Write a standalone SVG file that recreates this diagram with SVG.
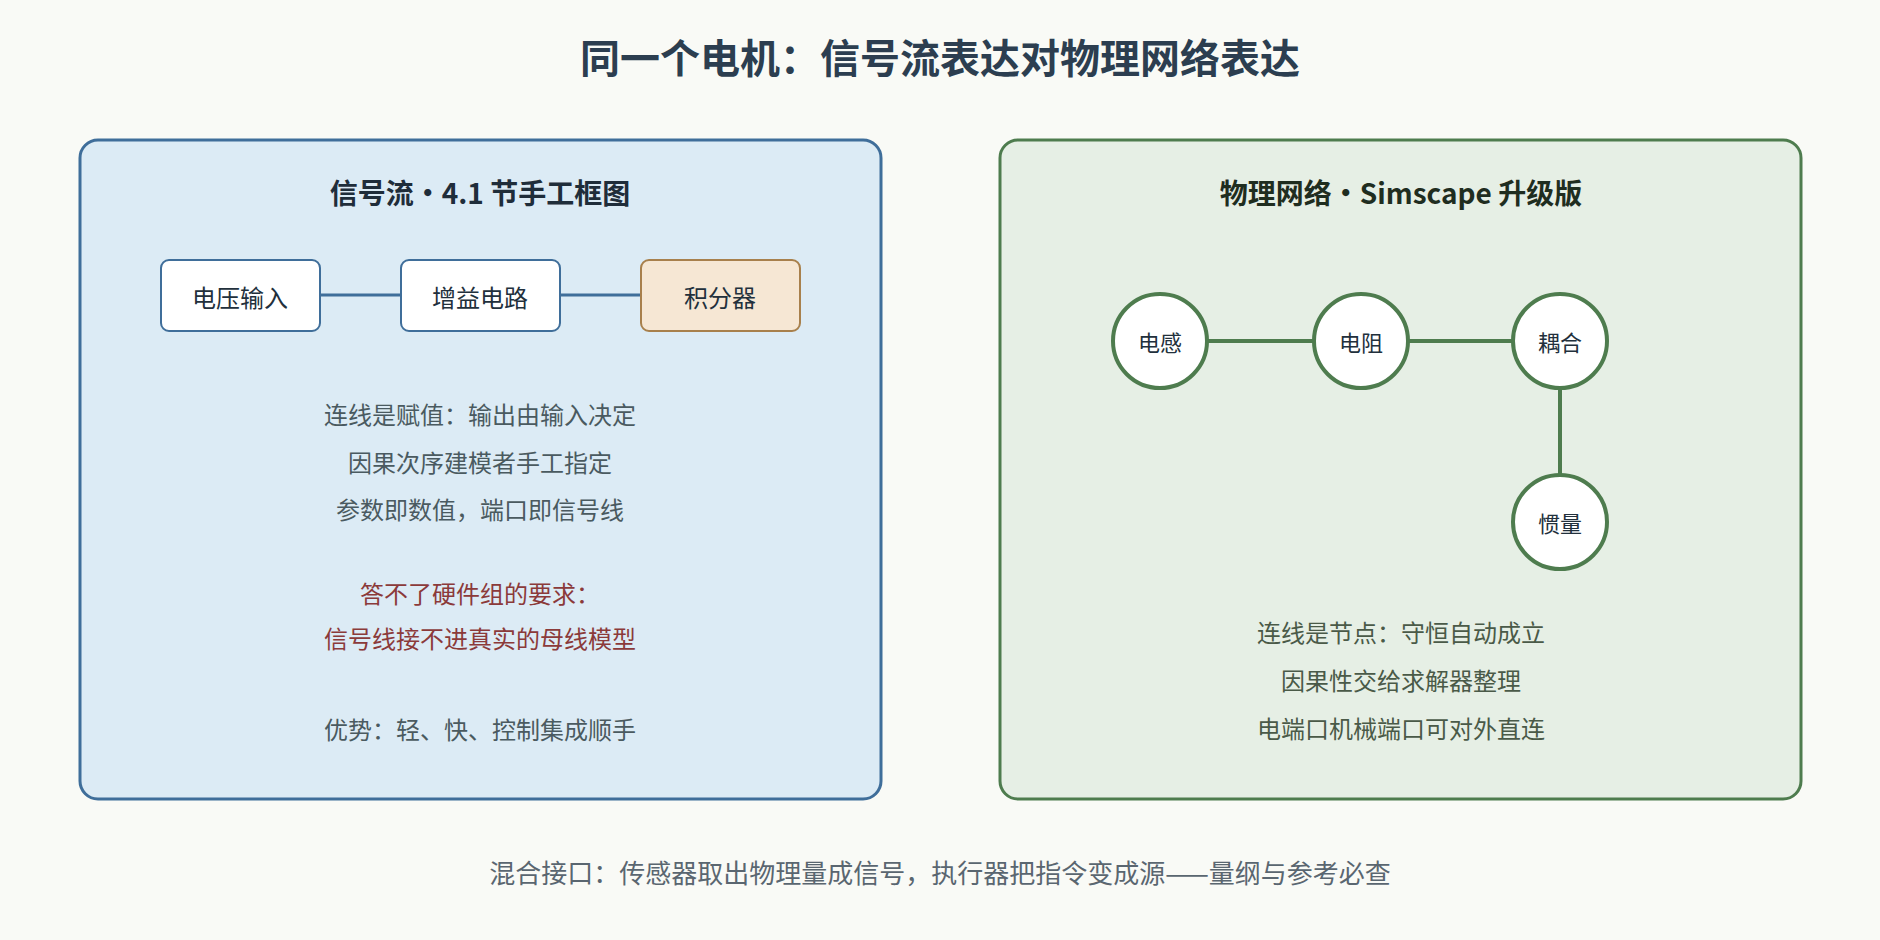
<svg xmlns="http://www.w3.org/2000/svg" width="1880" height="940" viewBox="0 0 1880 940">
<style>
text{font-family:"Noto Sans CJK SC","Noto Sans",sans-serif;text-anchor:middle;dominant-baseline:central}
.t{font-size:24px;fill:#4a5a60}
.r{font-size:24px;fill:#8b3a3a}
.g{font-size:24px;fill:#4a5a48}
.box{fill:#fff;stroke:#3f6e9a;stroke-width:2}
.bl{font-size:24px;fill:#22303c}
.cl{font-size:22px;fill:#22303c}
.c{fill:#fff;stroke:#4e7c4e;stroke-width:4}
</style>
<rect width="1880" height="940" fill="#f9faf6"/>
<text x="940" y="56" font-size="40" font-weight="bold" fill="#2c3e50">同一个电机：信号流表达对物理网络表达</text>
<g id="left-panel">
<rect x="80" y="140" width="801" height="659" rx="18" fill="#dcebf5" stroke="#3f6e9a" stroke-width="3"/>
<text x="480" y="192" font-size="28" font-weight="bold" fill="#1f2d3a">信号流•4.1 节手工框图</text>
<text x="480" y="413" class="t">连线是赋值：输出由输入决定</text>
<text x="480" y="461" class="t">因果次序建模者手工指定</text>
<text x="480" y="508" class="t">参数即数值，端口即信号线</text>
<text x="480" y="592" class="r">答不了硬件组的要求：</text>
<text x="480" y="637" class="r">信号线接不进真实的母线模型</text>
<text x="480" y="728" class="t">优势：轻、快、控制集成顺手</text>
</g>
<g id="right-panel">
<rect x="1000" y="140" width="801" height="659" rx="18" fill="#e6efe5" stroke="#4e7c4e" stroke-width="3"/>
<text x="1401" y="192" font-size="28" font-weight="bold" fill="#1f2d1f">物理网络•Simscape 升级版</text>
<text x="1401" y="631" class="g">连线是节点：守恒自动成立</text>
<text x="1401" y="679" class="g">因果性交给求解器整理</text>
<text x="1401" y="727" class="g">电端口机械端口可对外直连</text>
</g>
<g id="connectors">
<line x1="321" y1="295" x2="400" y2="295" stroke="#3f6e9a" stroke-width="3"/>
<line x1="561" y1="295" x2="640" y2="295" stroke="#3f6e9a" stroke-width="3"/>
<line x1="1208" y1="341" x2="1313" y2="341" stroke="#4e7c4e" stroke-width="4"/>
<line x1="1409" y1="341" x2="1512" y2="341" stroke="#4e7c4e" stroke-width="4"/>
<line x1="1560" y1="389" x2="1560" y2="474" stroke="#4e7c4e" stroke-width="4"/>
</g>
<g id="n1"><rect class="box" x="161" y="260" width="159" height="71" rx="8"/><text x="240" y="296" class="bl">电压输入</text></g>
<g id="n2"><rect class="box" x="401" y="260" width="159" height="71" rx="8"/><text x="480" y="296" class="bl">增益电路</text></g>
<g id="n3"><rect x="641" y="260" width="159" height="71" rx="8" fill="#f6e7d4" stroke="#a8804c" stroke-width="2"/><text x="720" y="296" class="bl">积分器</text></g>
<g id="c1"><circle class="c" cx="1160" cy="341" r="47"/><text x="1160" y="341" class="cl">电感</text></g>
<g id="c2"><circle class="c" cx="1361" cy="341" r="47"/><text x="1361" y="341" class="cl">电阻</text></g>
<g id="c3"><circle class="c" cx="1560" cy="341" r="47"/><text x="1560" y="341" class="cl">耦合</text></g>
<g id="c4"><circle class="c" cx="1560" cy="522" r="47"/><text x="1560" y="522" class="cl">惯量</text></g>
<text x="940" y="871" font-size="26" fill="#5a6670">混合接口：传感器取出物理量成信号，执行器把指令变成源——量纲与参考必查</text>
</svg>
